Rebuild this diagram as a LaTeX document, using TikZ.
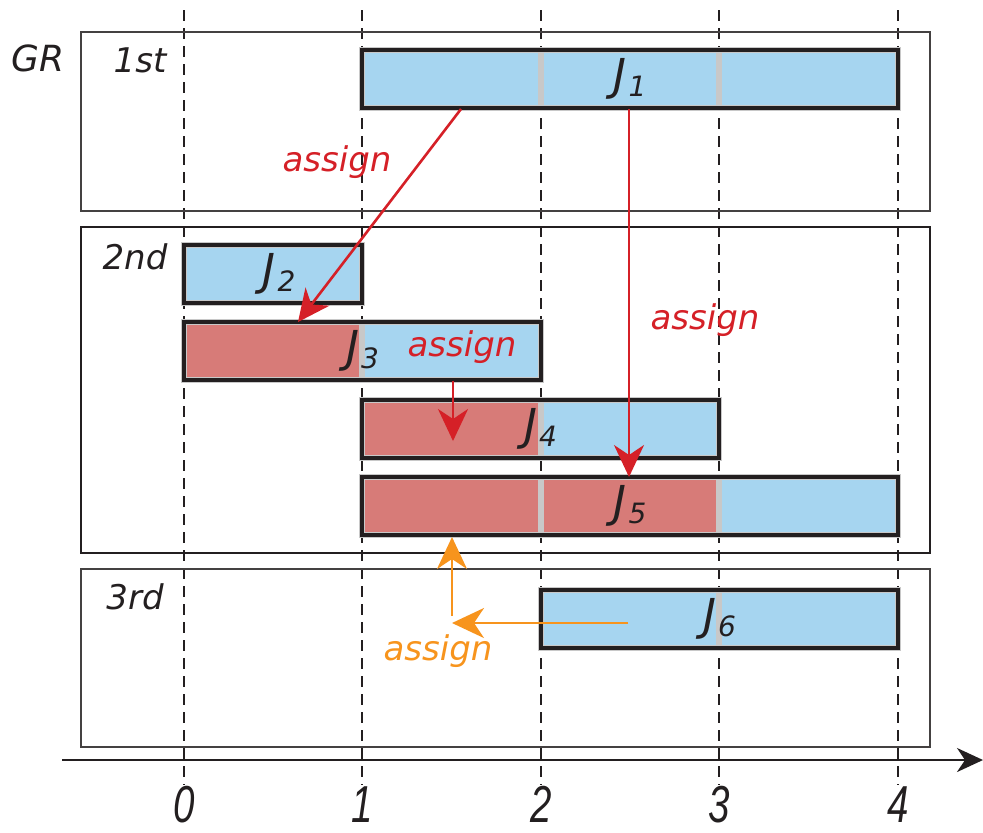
\documentclass[tikz,border=0pt]{standalone}
\usepackage{fontspec}
\setmainfont{DejaVu Sans}
\newfontfamily\axisfont{Liberation Sans}
\usetikzlibrary{positioning,arrows.meta,fit,backgrounds}
\definecolor{JobBlue}{RGB}{166,213,240}
\definecolor{LateRed}{RGB}{215,123,120}
\definecolor{AssignRed}{RGB}{213,32,39}
\definecolor{AssignOrange}{RGB}{247,148,29}
\definecolor{SepGray}{RGB}{200,200,200}
\definecolor{InkBlack}{RGB}{35,31,32}
\tikzset{>={Stealth[length=16pt,width=15pt,inset=5pt]}}
\tikzset{gridline/.style={InkBlack,line width=.8pt,dash pattern=on 5.5pt off 3.5pt}}
\tikzset{grpbox/.style={draw=InkBlack!85,line width=.8pt,inner sep=0pt}}
\tikzset{grplbl/.style={text=InkBlack,font=\fontsize{17}{17}\selectfont\itshape}}
\tikzset{seg/.style={draw=SepGray,line width=2.6pt}}
\tikzset{bar/.style={draw=InkBlack,line width=1.6pt,inner sep=0pt}}
\tikzset{jlbl/.style={text=InkBlack,inner sep=0pt,font=\fontsize{22}{22}\selectfont\itshape}}
\tikzset{assignlbl/.style={font=\fontsize{17}{17}\selectfont\itshape}}
\tikzset{assignarr/.style={->,line width=1.3pt}}
\tikzset{ticklbl/.style={text=InkBlack,anchor=base,inner sep=0pt,font=\axisfont\itshape\fontsize{26}{26}\selectfont}}
\newcommand\jlab[1]{J\kern1pt{\fontsize{14}{14}\selectfont\raisebox{-3pt}{#1}}}

\begin{document}
\begin{tikzpicture}[x=0.5pt,y=-0.5pt]
  \useasboundingbox (0,0) rectangle (983,832);
  % time grid and axis
  \foreach \t/\px in {0/184,1/362,2/541,3/719,4/898}{
    \draw[gridline] (\px,10) -- (\px,785);
    \node[ticklbl] (tick\t) at (\px,822) {\scalebox{.74}[1]{\t}};
  }
  \coordinate (axs) at (62,760);
  \coordinate (axe) at (983,760);
  \draw[InkBlack,line width=1.2pt,-{Stealth[length=13pt,width=12pt,inset=4pt]}] (axs) -- (axe);
  \node[text=InkBlack,font=\fontsize{18}{18}\selectfont\itshape] (gr) at (38,58) {GR};
  % groups
  \node[grpbox,fit={(81,32) (930,211)}] (g1) {};
  \node[grpbox,draw=InkBlack,line width=1.4pt,fit={(81,227) (930,553)}] (g2) {};
  \node[grpbox,fit={(81,569) (930,747)}] (g3) {};
  \node[grplbl] (l1) at (140,60) {1st};
  \node[grplbl] (l2) at (135,257) {2nd};
  \node[grplbl] (l3) at (135,597) {3rd};
  % job segments
  \foreach \a/\b/\y/\c in {362/541/50/JobBlue,541/719/50/JobBlue,719/898/50/JobBlue,
      184/362/245/JobBlue,
      184/362/322/LateRed,362/541/322/JobBlue,
      362/541/400/LateRed,541/719/400/JobBlue,
      362/541/477/LateRed,541/719/477/LateRed,719/898/477/JobBlue,
      541/719/590/JobBlue,719/898/590/JobBlue}
    \draw[seg,fill=\c] (\a,\y) rectangle (\b,\y+58);
  % jobs
  \node[bar,fit={(362,50) (898,108)},label={[jlbl]center:\jlab{1}}] (J1) {};
  \node[bar,fit={(184,245) (362,303)},label={[jlbl,xshift=3pt]center:\jlab{2}}] (J2) {};
  \node[bar,fit={(184,322) (541,380)},label={[jlbl]center:\jlab{3}}] (J3) {};
  \node[bar,fit={(362,400) (719,458)},label={[jlbl]center:\jlab{4}}] (J4) {};
  \node[bar,fit={(362,477) (898,535)},label={[jlbl]center:\jlab{5}}] (J5) {};
  \node[bar,fit={(541,590) (898,648)},label={[jlbl]center:\jlab{6}}] (J6) {};
  % assignments
  \coordinate (a1s) at (461,109);
  \coordinate (a1e) at (298,322);
  \coordinate (a2s) at (629,109);
  \coordinate (a2e) at (629,477);
  \coordinate (a3s) at (453,381);
  \coordinate (a3e) at (453,441);
  \coordinate (o1s) at (628,623);
  \coordinate (o1e) at (452,623);
  \coordinate (o2s) at (452,616);
  \coordinate (o2e) at (452,537);
  \draw[assignarr,AssignRed] (a1s) -- (a1e);
  \draw[assignarr,AssignRed] (a2s) -- (a2e);
  \draw[assignarr,AssignRed] (a3s) -- (a3e);
  \draw[assignarr,AssignOrange] (o1s) -- (o1e);
  \draw[assignarr,AssignOrange] (o2s) -- (o2e);
  \node[assignlbl,AssignRed] (as1) at (337,162) {assign};
  \node[assignlbl,AssignRed] (as2) at (705,320) {assign};
  \node[assignlbl,AssignRed] (as3) at (462,347) {assign};
  \node[assignlbl,AssignOrange] (as4) at (438,651) {assign};
\end{tikzpicture}
\end{document}
